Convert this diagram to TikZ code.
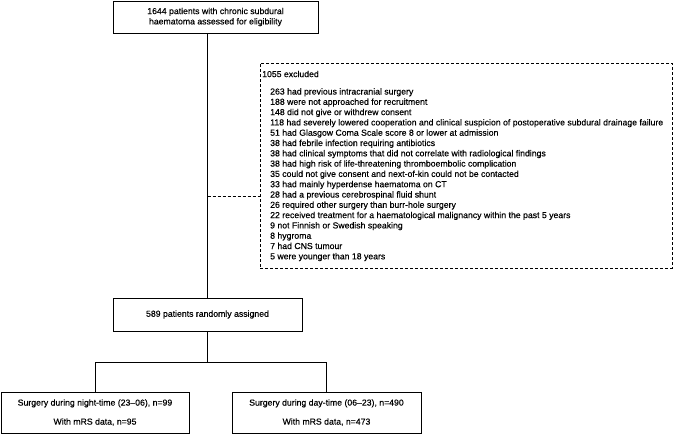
\documentclass[tikz,border=0pt]{standalone}
\usepackage{fontspec}
\setmainfont[FakeBold=0.35]{Liberation Sans}
\begin{document}
\begin{tikzpicture}[x=1pt,y=-1pt,
  every node/.style={font=\fontsize{8.7}{10.3}\selectfont, text=black},
  box/.style={draw, line width=0.8pt, inner sep=0pt, align=center},
  exbox/.style={draw, line width=0.8pt, inner sep=0pt, dash pattern=on 3pt off 2pt},
  link/.style={line width=0.8pt},
  dlink/.style={line width=0.8pt, dash pattern=on 3pt off 2pt}]
\useasboundingbox (0,0) rectangle (676,434);

\node[box, minimum width=205pt, minimum height=32pt] (top) at (215.5,17)
  {1644 patients with chronic subdural\\haematoma assessed for eligibility};
\node[box, minimum width=189pt, minimum height=33pt] (rand) at (207.5,314.5)
  {589 patients randomly assigned};
\node[exbox, minimum width=412pt, minimum height=205pt] (excl) at (466,165.5) {};
\node[anchor=west, inner sep=0pt] (exhead) at (262,74) {1055 excluded};
\node[anchor=north west, align=left, inner sep=0pt] (exlist) at (270,88) {%
263 had previous intracranial surgery\\
188 were not approached for recruitment\\
148 did not give or withdrew consent\\
118 had severely lowered cooperation and clinical suspicion of postoperative subdural drainage failure\\
51 had Glasgow Coma Scale score 8 or lower at admission\\
38 had febrile infection requiring antibiotics\\
38 had clinical symptoms that did not correlate with radiological findings\\
38 had high risk of life-threatening thromboembolic complication\\
35 could not give consent and next-of-kin could not be contacted\\
33 had mainly hyperdense haematoma on CT\\
28 had a previous cerebrospinal fluid shunt\\
26 required other surgery than burr-hole surgery\\
22 received treatment for a haematological malignancy within the past 5 years\\
9 not Finnish or Swedish speaking\\
8 hygroma\\
7 had CNS tumour\\
5 were younger than 18 years};

\node[box, minimum width=188pt, minimum height=41pt] (night) at (95,412.5)
  {Surgery during night-time (23--06), n=99\\[8.7pt]With mRS data, n=95};
\node[box, minimum width=189pt, minimum height=41pt] (day) at (326.5,412.5)
  {Surgery during day-time (06--23), n=490\\[8.7pt]With mRS data, n=473};

\coordinate (j) at (207.5,196);
\coordinate (split) at (207.5,362);
\draw[link] (top.south -| rand.north) -- (rand.north);
\draw[dlink] (j) -- (j -| excl.west);
\draw[link] (rand.south) -- (split);
\draw[link] (night.north |- split) -- (day.north |- split);
\draw[link] (night.north |- split) -- (night.north);
\draw[link] (day.north |- split) -- (day.north);
\end{tikzpicture}
\end{document}
